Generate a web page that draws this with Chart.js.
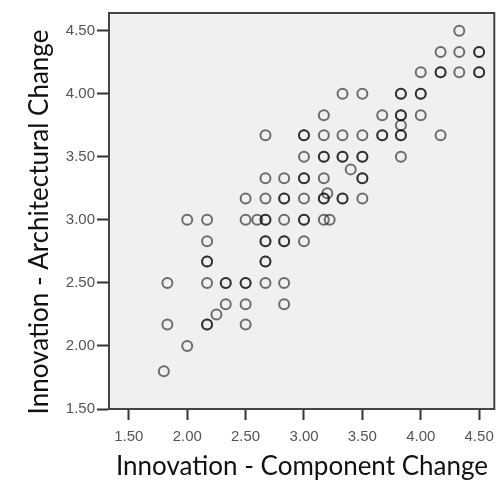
<!DOCTYPE html>
<html>
<head>
<meta charset="utf-8">
<script src="https://cdn.jsdelivr.net/npm/chart.js@4/dist/chart.umd.min.js"></script>
<style>
  html, body { margin: 0; padding: 0; background: #fff; }
  #wrap { width: 502px; height: 501px; }
</style>
</head>
<body>
<div id="wrap"><canvas id="scatter" width="502" height="501"></canvas></div>
<script>
// values (repeated pairs = overlapping cases, drawn darker)
const componentChange = [
  4.33,
  4.17, 4.33, 4.50, 4.50,
  4.00, 4.17, 4.17, 4.33, 4.50, 4.50,
  3.33, 3.50, 3.83, 3.83, 4.00, 4.00,
  3.17, 3.67, 3.83, 3.83, 4.00,
  3.83,
  2.67, 3.00, 3.00, 3.17, 3.33, 3.50, 3.67, 3.67, 3.83, 3.83, 4.17,
  3.00, 3.17, 3.17, 3.33, 3.33, 3.50, 3.50, 3.83,
  3.40,
  2.67, 2.83, 3.00, 3.00, 3.17, 3.50, 3.50,
  3.20,
  2.50, 2.67, 2.83, 2.83, 3.00, 3.17, 3.17, 3.33, 3.33, 3.50,
  2.00, 2.17, 2.50, 2.60, 2.67, 2.67, 2.83, 3.00, 3.00, 3.17, 3.22,
  2.17, 2.67, 2.67, 2.83, 2.83, 3.00,
  2.17, 2.17, 2.67, 2.67,
  1.83, 2.17, 2.33, 2.33, 2.50, 2.50, 2.67, 2.83,
  2.33, 2.50, 2.83,
  2.25,
  1.83, 2.17, 2.17, 2.50,
  2.00,
  1.80
];
const architecturalChange = [
  4.50,
  4.33, 4.33, 4.33, 4.33,
  4.17, 4.17, 4.17, 4.17, 4.17, 4.17,
  4.00, 4.00, 4.00, 4.00, 4.00, 4.00,
  3.83, 3.83, 3.83, 3.83, 3.83,
  3.75,
  3.67, 3.67, 3.67, 3.67, 3.67, 3.67, 3.67, 3.67, 3.67, 3.67, 3.67,
  3.50, 3.50, 3.50, 3.50, 3.50, 3.50, 3.50, 3.50,
  3.40,
  3.33, 3.33, 3.33, 3.33, 3.33, 3.33, 3.33,
  3.21,
  3.17, 3.17, 3.17, 3.17, 3.17, 3.17, 3.17, 3.17, 3.17, 3.17,
  3.00, 3.00, 3.00, 3.00, 3.00, 3.00, 3.00, 3.00, 3.00, 3.00, 3.00,
  2.83, 2.83, 2.83, 2.83, 2.83, 2.83,
  2.67, 2.67, 2.67, 2.67,
  2.50, 2.50, 2.50, 2.50, 2.50, 2.50, 2.50, 2.50,
  2.33, 2.33, 2.33,
  2.25,
  2.17, 2.17, 2.17, 2.17,
  2.00,
  1.80
];
const xTicks = [1.50, 2.00, 2.50, 3.00, 3.50, 4.00, 4.50];
const yTicks = [1.50, 2.00, 2.50, 3.00, 3.50, 4.00, 4.50];
const xTitle = 'Innovation - Component Change';
const yTitle = 'Innovation - Architectural Change';

const points = componentChange.map((x, i) => ({ x: x, y: architecturalChange[i] }));

// grey plot background, frame and axis titles
const framePlugin = {
  id: 'framePlugin',
  beforeDraw(chart) {
    const { ctx, chartArea: a } = chart;
    ctx.save();
    ctx.fillStyle = '#f0f0f0';
    ctx.fillRect(a.left, a.top, a.right - a.left, a.bottom - a.top);
    ctx.restore();
  },
  afterDraw(chart) {
    const { ctx, chartArea: a } = chart;
    ctx.save();
    ctx.strokeStyle = '#444';
    ctx.lineWidth = 2;
    ctx.strokeRect(a.left, a.top, a.right - a.left, a.bottom - a.top);

    ctx.fillStyle = '#111';
    ctx.font = '26px Lato, "Noto Sans", sans-serif';
    ctx.textAlign = 'center';
    ctx.textBaseline = 'middle';
    ctx.fillText(xTitle, 302, 467);

    ctx.translate(40, 222);
    ctx.rotate(-Math.PI / 2);
    ctx.fillText(yTitle, 0, 0);
    ctx.restore();
  }
};

const tickFont = { family: 'Liberation Sans', size: 15 };

new Chart(document.getElementById('scatter'), {
  type: 'scatter',
  data: {
    datasets: [{
      data: points,
      pointStyle: 'circle',
      pointRadius: 5,
      pointHoverRadius: 5,
      pointBorderWidth: 2,
      pointBackgroundColor: 'rgba(0,0,0,0)',
      pointBorderColor: 'rgba(0,0,0,0.55)'
    }]
  },
  options: {
    responsive: false,
    animation: false,
    events: [],
    layout: { padding: { top: 13, right: 2, left: 0, bottom: 0 } },
    plugins: {
      legend: { display: false },
      tooltip: { enabled: false }
    },
    scales: {
      x: {
        type: 'linear',
        min: 1.33,
        max: 4.63,
        afterBuildTicks: (s) => { s.ticks = xTicks.map(v => ({ value: v })); },
        afterFit: (s) => { s.height = 92; },
        border: { color: '#333', width: 2 },
        grid: { drawOnChartArea: false, drawTicks: true, tickLength: 11, tickWidth: 2, tickColor: '#333' },
        ticks: {
          font: tickFont,
          color: '#555',
          padding: 8,
          maxRotation: 0,
          autoSkip: false,
          callback: (v) => Number(v).toFixed(2)
        }
      },
      y: {
        type: 'linear',
        min: 1.50,
        max: 4.64,
        afterBuildTicks: (s) => { s.ticks = yTicks.map(v => ({ value: v })); },
        afterFit: (s) => { s.width = 109; },
        border: { color: '#333', width: 2 },
        grid: { drawOnChartArea: false, drawTicks: true, tickLength: 12, tickWidth: 2, tickColor: '#333' },
        ticks: {
          font: tickFont,
          color: '#555',
          padding: 2,
          autoSkip: false,
          callback: (v) => Number(v).toFixed(2)
        }
      }
    }
  },
  plugins: [framePlugin]
});
</script>
</body>
</html>
